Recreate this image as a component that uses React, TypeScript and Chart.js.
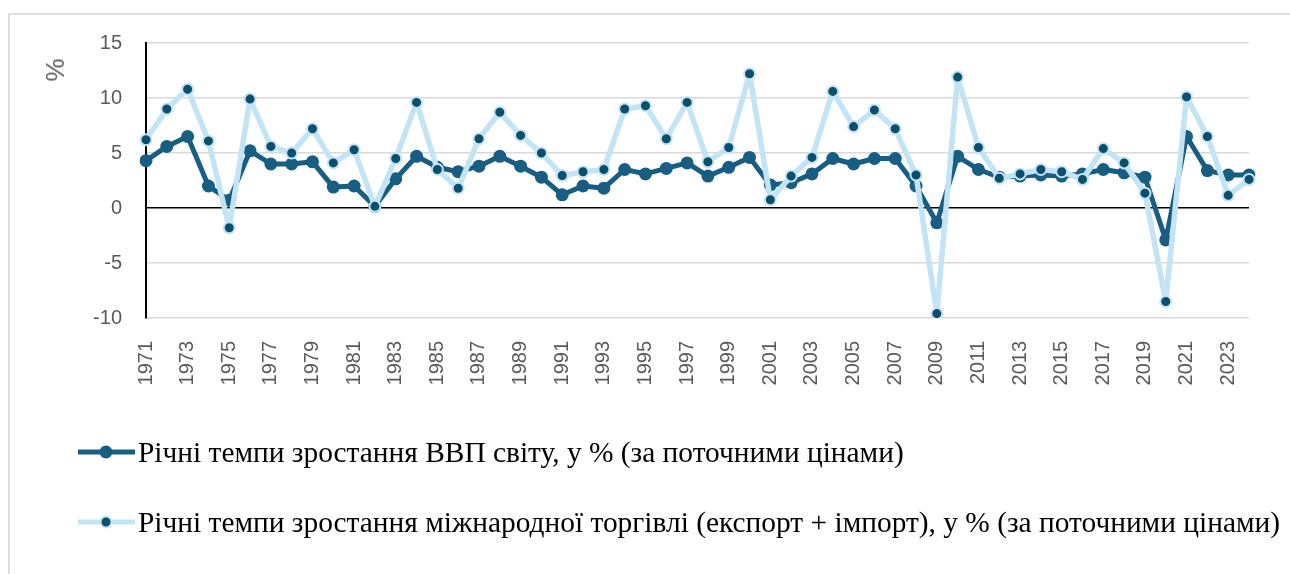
import React, { useEffect, useRef } from "react";
import { Chart, registerables } from "chart.js";

Chart.register(...registerables);

const years: string[] = [
  "1971","1972","1973","1974","1975","1976","1977","1978","1979","1980",
  "1981","1982","1983","1984","1985","1986","1987","1988","1989","1990",
  "1991","1992","1993","1994","1995","1996","1997","1998","1999","2000",
  "2001","2002","2003","2004","2005","2006","2007","2008","2009","2010",
  "2011","2012","2013","2014","2015","2016","2017","2018","2019","2020",
  "2021","2022","2023","2024",
];

const gdpGrowth: number[] = [
  4.3, 5.6, 6.5, 2.0, 0.7, 5.2, 4.0, 4.0, 4.2, 1.9,
  2.0, 0.15, 2.65, 4.7, 3.7, 3.3, 3.8, 4.7, 3.8, 2.8,
  1.2, 2.0, 1.8, 3.5, 3.1, 3.6, 4.1, 2.9, 3.7, 4.6,
  2.1, 2.3, 3.1, 4.5, 4.0, 4.5, 4.5, 2.0, -1.35, 4.7,
  3.5, 2.8, 2.9, 3.0, 2.9, 3.1, 3.5, 3.2, 2.8, -2.9,
  6.5, 3.4, 3.0, 3.0,
];

const tradeGrowth: number[] = [
  6.2, 9.0, 10.8, 6.1, -1.8, 9.9, 5.6, 5.0, 7.2, 4.1,
  5.3, 0.15, 4.5, 9.6, 3.5, 1.8, 6.3, 8.7, 6.6, 5.0,
  2.95, 3.3, 3.5, 9.0, 9.3, 6.3, 9.6, 4.2, 5.5, 12.2,
  0.75, 2.9, 4.6, 10.6, 7.4, 8.9, 7.2, 3.0, -9.6, 11.9,
  5.5, 2.7, 3.1, 3.5, 3.3, 2.6, 5.4, 4.1, 1.35, -8.5,
  10.1, 6.5, 1.15, 2.6,
];

const gdpLabel = "Річні темпи зростання ВВП світу, у % (за поточними цінами)";
const tradeLabel =
  "Річні темпи зростання міжнародної торгівлі (експорт + імпорт), у % (за поточними цінами)";
const yAxisTitle = "%";

const DARK = "#175e82";
const LIGHT = "#c3e4f4";
const DOT = "#0b4f6c";
const TICK = "#595959";
const SANS = "'Liberation Sans', Arial, sans-serif";
const SERIF = "'Liberation Serif', 'Times New Roman', serif";

function LegendRow({ top, lineColor, dotColor, dotStroke, r, text }: any) {
  return (
    <div
      style={{
        position: "absolute",
        left: 78,
        top,
        height: 40,
        display: "flex",
        alignItems: "center",
        whiteSpace: "nowrap",
      }}
    >
      <svg width={57} height={18} style={{ display: "block" }}>
        <line x1={0} y1={9} x2={57} y2={9} stroke={lineColor} strokeWidth={5} strokeLinecap="round" />
        <circle cx={28} cy={9} r={r} fill={dotColor} stroke={dotStroke} strokeWidth={dotStroke ? 2 : 0} />
      </svg>
      <span style={{ marginLeft: 3, fontFamily: SERIF, fontSize: 29.4, color: "#000" }}>{text}</span>
    </div>
  );
}

export default function App() {
  const ref = useRef<HTMLCanvasElement>(null);

  useEffect(() => {
    const chart = new Chart(ref.current as HTMLCanvasElement, {
      type: "line",
      data: {
        labels: years,
        datasets: [
          {
            label: gdpLabel,
            data: gdpGrowth,
            borderColor: DARK,
            backgroundColor: DARK,
            borderWidth: 5,
            borderJoinStyle: "round",
            pointRadius: 6.5,
            pointBackgroundColor: DARK,
            pointBorderColor: DARK,
            pointBorderWidth: 0,
            order: 2,
          },
          {
            label: tradeLabel,
            data: tradeGrowth,
            borderColor: LIGHT,
            backgroundColor: LIGHT,
            borderWidth: 5.5,
            borderJoinStyle: "round",
            pointRadius: 5.5,
            pointBackgroundColor: DOT,
            pointBorderColor: LIGHT,
            pointBorderWidth: 2,
            order: 1,
          },
        ],
      },
      options: {
        responsive: false,
        animation: false,
        layout: { padding: { top: 0, right: 37, left: 0, bottom: 0 } },
        plugins: { legend: { display: false }, tooltip: { enabled: false } },
        scales: {
          x: {
            grid: { display: false },
            border: { display: false },
            ticks: {
              autoSkip: false,
              minRotation: 90,
              maxRotation: 90,
              padding: 15,
              color: TICK,
              font: { family: SANS, size: 20 },
              callback: (_v: any, i: number) => (i % 2 === 0 ? years[i] : ""),
            },
            afterFit: (s: any) => {
              s.height = 89;
            },
          },
          y: {
            min: -10,
            max: 15,
            ticks: {
              stepSize: 5,
              padding: 24,
              color: TICK,
              font: { family: SANS, size: 20 },
            },
            grid: {
              color: (c: any) => (c.tick && c.tick.value === 0 ? "#000000" : "#d9d9d9"),
              lineWidth: 1.5,
              drawTicks: false,
            },
            border: { display: true, color: "#000000", width: 2 },
            afterFit: (s: any) => {
              s.width = 136;
            },
          },
        },
      },
    } as any);
    return () => chart.destroy();
  }, []);

  return (
    <div style={{ position: "relative", width: 1282, height: 560 }}>
      <div
        style={{
          position: "fixed",
          left: 8,
          top: 13,
          width: 1282,
          height: 561,
          boxSizing: "border-box",
          borderLeft: "2px solid #dedede",
          borderTop: "2px solid #dedede",
        }}
      />
      <canvas
        ref={ref}
        width={1278}
        height={400}
        style={{ position: "fixed", left: 10, top: 7, width: 1278, height: 400, display: "block" }}
      />
      <div
        style={{
          position: "fixed",
          left: 55,
          top: 70,
          transform: "translate(-50%, -50%) rotate(-90deg)",
          fontFamily: SANS,
          fontSize: 26,
          color: TICK,
          lineHeight: 1,
        }}
      >
        {yAxisTitle}
      </div>
      <div style={{ position: "fixed", left: 0, top: 0 }}>
        <LegendRow top={432} lineColor={DARK} dotColor={DARK} dotStroke={null} r={6.5} text={gdpLabel} />
        <LegendRow top={502} lineColor={LIGHT} dotColor={DOT} dotStroke={LIGHT} r={5.5} text={tradeLabel} />
      </div>
    </div>
  );
}
